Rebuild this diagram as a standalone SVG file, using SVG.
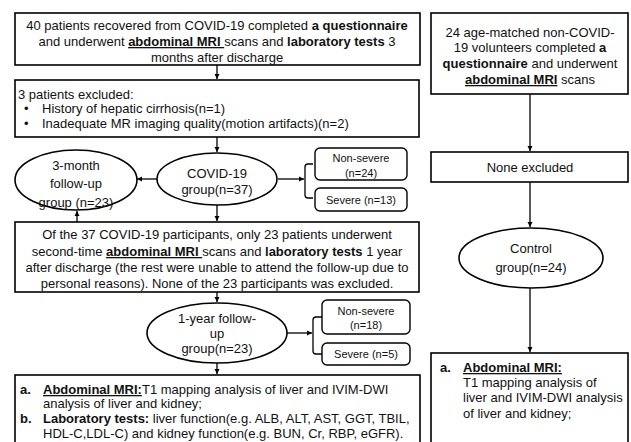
<svg xmlns="http://www.w3.org/2000/svg" width="631" height="442" viewBox="0 0 631 442">
<defs>
<marker id="ah" markerWidth="6" markerHeight="6" refX="5" refY="3" orient="auto" markerUnits="userSpaceOnUse">
<path d="M0,0.5 L5,3 L0,5.5 Z" fill="#000"/>
</marker>
<style>
.box{fill:#fff;stroke:#000;stroke-width:1.6}
.rbox{fill:#fff;stroke:#000;stroke-width:1.4}
.t{font-family:"Liberation Sans",Arial,sans-serif;font-size:13px;fill:#111}
.s{font-family:"Liberation Sans",Arial,sans-serif;font-size:11px;fill:#111}
.c{text-anchor:middle}
.b{font-weight:bold}
.u{text-decoration:underline}
.ln{fill:none;stroke:#000;stroke-width:1.3}
</style>
</defs>
<rect width="631" height="442" fill="#fff"/>
<g id="connectors">
<line class="ln" x1="217" y1="65" x2="217" y2="79" marker-end="url(#ah)"/>
<line class="ln" x1="217" y1="137" x2="217" y2="152" marker-end="url(#ah)"/>
<line class="ln" x1="157" y1="179" x2="137" y2="179" marker-end="url(#ah)"/>
<line class="ln" x1="217" y1="205" x2="217" y2="221" marker-end="url(#ah)"/>
<line class="ln" x1="77" y1="222" x2="77" y2="211" marker-end="url(#ah)"/>
<line class="ln" x1="278" y1="179" x2="304" y2="179" marker-end="url(#ah)"/>
<path class="ln" d="M313,164 H308 Q305,164 305,167 V195 Q305,198 308,198 H313"/>
<line class="ln" x1="217" y1="292" x2="217" y2="302" marker-end="url(#ah)"/>
<line class="ln" x1="217" y1="363" x2="217" y2="374" marker-end="url(#ah)"/>
<line class="ln" x1="287" y1="333" x2="312" y2="333" marker-end="url(#ah)"/>
<path class="ln" d="M322,317 H316 Q313,317 313,320 V351 Q313,354 316,354 H322"/>
<line class="ln" x1="530" y1="94" x2="530" y2="151" marker-end="url(#ah)"/>
<line class="ln" x1="530" y1="182" x2="530" y2="227" marker-end="url(#ah)"/>
<line class="ln" x1="530" y1="288" x2="530" y2="352" marker-end="url(#ah)"/>
</g>
<g id="n1">
<rect class="box" x="15" y="13" width="405" height="52"/>
<text class="t c" x="217" y="30">40 patients recovered from COVID-19 completed <tspan class="b">a questionnaire</tspan></text>
<text class="t c" x="217" y="46">and underwent <tspan class="b u">abdominal MRI </tspan>scans and <tspan class="b">laboratory tests</tspan> 3</text>
<text class="t c" x="217" y="62">months after discharge</text>
</g>
<g id="n2">
<rect class="box" x="15" y="80" width="404" height="57"/>
<text class="t" x="18" y="99">3 patients excluded:</text>
<text class="t" x="24" y="113">•</text>
<text class="t" x="42" y="113">History of hepatic cirrhosis(n=1)</text>
<text class="t" x="24" y="128">•</text>
<text class="t" x="42" y="128">Inadequate MR imaging quality(motion artifacts)(n=2)</text>
</g>
<g id="n3">
<ellipse class="box" cx="76" cy="180" rx="61" ry="30"/>
<text class="t c" x="76" y="170">3-month</text>
<text class="t c" x="76" y="188">follow-up</text>
<text class="t c" x="76" y="207">group (n=23)</text>
</g>
<g id="n4">
<ellipse class="box" cx="217" cy="179" rx="60" ry="26"/>
<text class="t c" x="217" y="178">COVID-19</text>
<text class="t c" x="217" y="194">group(n=37)</text>
</g>
<g id="n5">
<rect class="rbox" x="315" y="148" width="92" height="32" rx="5"/>
<text class="s c" x="361" y="162">Non-severe</text>
<text class="s c" x="361" y="177">(n=24)</text>
</g>
<g id="n6">
<rect class="rbox" x="315" y="188" width="92" height="23" rx="5"/>
<text class="s c" x="361" y="204">Severe (n=13)</text>
</g>
<g id="n7">
<rect class="box" x="15" y="222" width="404" height="70"/>
<text class="t c" x="217" y="239">Of the 37 COVID-19 participants, only 23 patients underwent</text>
<text class="t c" x="217" y="256">second-time <tspan class="b u">abdominal MRI </tspan>scans and <tspan class="b">laboratory tests</tspan> 1 year</text>
<text class="t c" x="217" y="272">after discharge (the rest were unable to attend the follow-up due to</text>
<text class="t c" x="217" y="288">personal reasons). None of the 23 participants was excluded.</text>
</g>
<g id="n8">
<ellipse class="box" cx="217" cy="333" rx="70" ry="30"/>
<text class="t c" x="217" y="323">1-year follow-</text>
<text class="t c" x="217" y="338">up</text>
<text class="t c" x="217" y="353">group(n=23)</text>
</g>
<g id="n9">
<rect class="rbox" x="322" y="300" width="88" height="34" rx="5"/>
<text class="s c" x="366" y="315">Non-severe</text>
<text class="s c" x="366" y="329">(n=18)</text>
</g>
<g id="n10">
<rect class="rbox" x="322" y="343" width="88" height="22" rx="5"/>
<text class="s c" x="366" y="358">Severe (n=5)</text>
</g>
<g id="n11">
<rect class="box" x="15" y="375" width="405" height="72"/>
<text class="t b" x="20" y="394">a.</text>
<text class="t" x="43" y="394"><tspan class="b u">Abdominal MRI:</tspan>T1 mapping analysis of liver and IVIM-DWI</text>
<text class="t" x="43" y="408">analysis of liver and kidney;</text>
<text class="t b" x="20" y="423">b.</text>
<text class="t" x="43" y="423"><tspan class="b">Laboratory tests:</tspan> liver function(e.g. ALB, ALT, AST, GGT, TBIL,</text>
<text class="t" x="43" y="438">HDL-C,LDL-C) and kidney function(e.g. BUN, Cr, RBP, eGFR).</text>
</g>
<g id="n12">
<rect class="box" x="431" y="13" width="197" height="81"/>
<text class="t c" x="530" y="37">24 age-matched non-COVID-</text>
<text class="t c" x="530" y="52">19 volunteers completed <tspan class="b">a</tspan></text>
<text class="t c" x="530" y="68"><tspan class="b">questionnaire</tspan> and underwent</text>
<text class="t c" x="530" y="84"><tspan class="b u">abdominal MRI</tspan> scans</text>
</g>
<g id="n13">
<rect class="box" x="431" y="152" width="197" height="30"/>
<text class="t c" x="530" y="172">None excluded</text>
</g>
<g id="n14">
<ellipse class="box" cx="531" cy="258" rx="72" ry="30"/>
<text class="t c" x="531" y="253">Control</text>
<text class="t c" x="531" y="272">group(n=24)</text>
</g>
<g id="n15">
<rect class="box" x="431" y="353" width="197" height="94"/>
<text class="t b" x="440" y="372">a.</text>
<text class="t" x="463" y="372"><tspan class="b u">Abdominal MRI:</tspan></text>
<text class="t" x="463" y="387">T1 mapping analysis of</text>
<text class="t" x="463" y="402">liver and IVIM-DWI analysis</text>
<text class="t" x="463" y="418">of liver and kidney;</text>
</g>
</svg>
